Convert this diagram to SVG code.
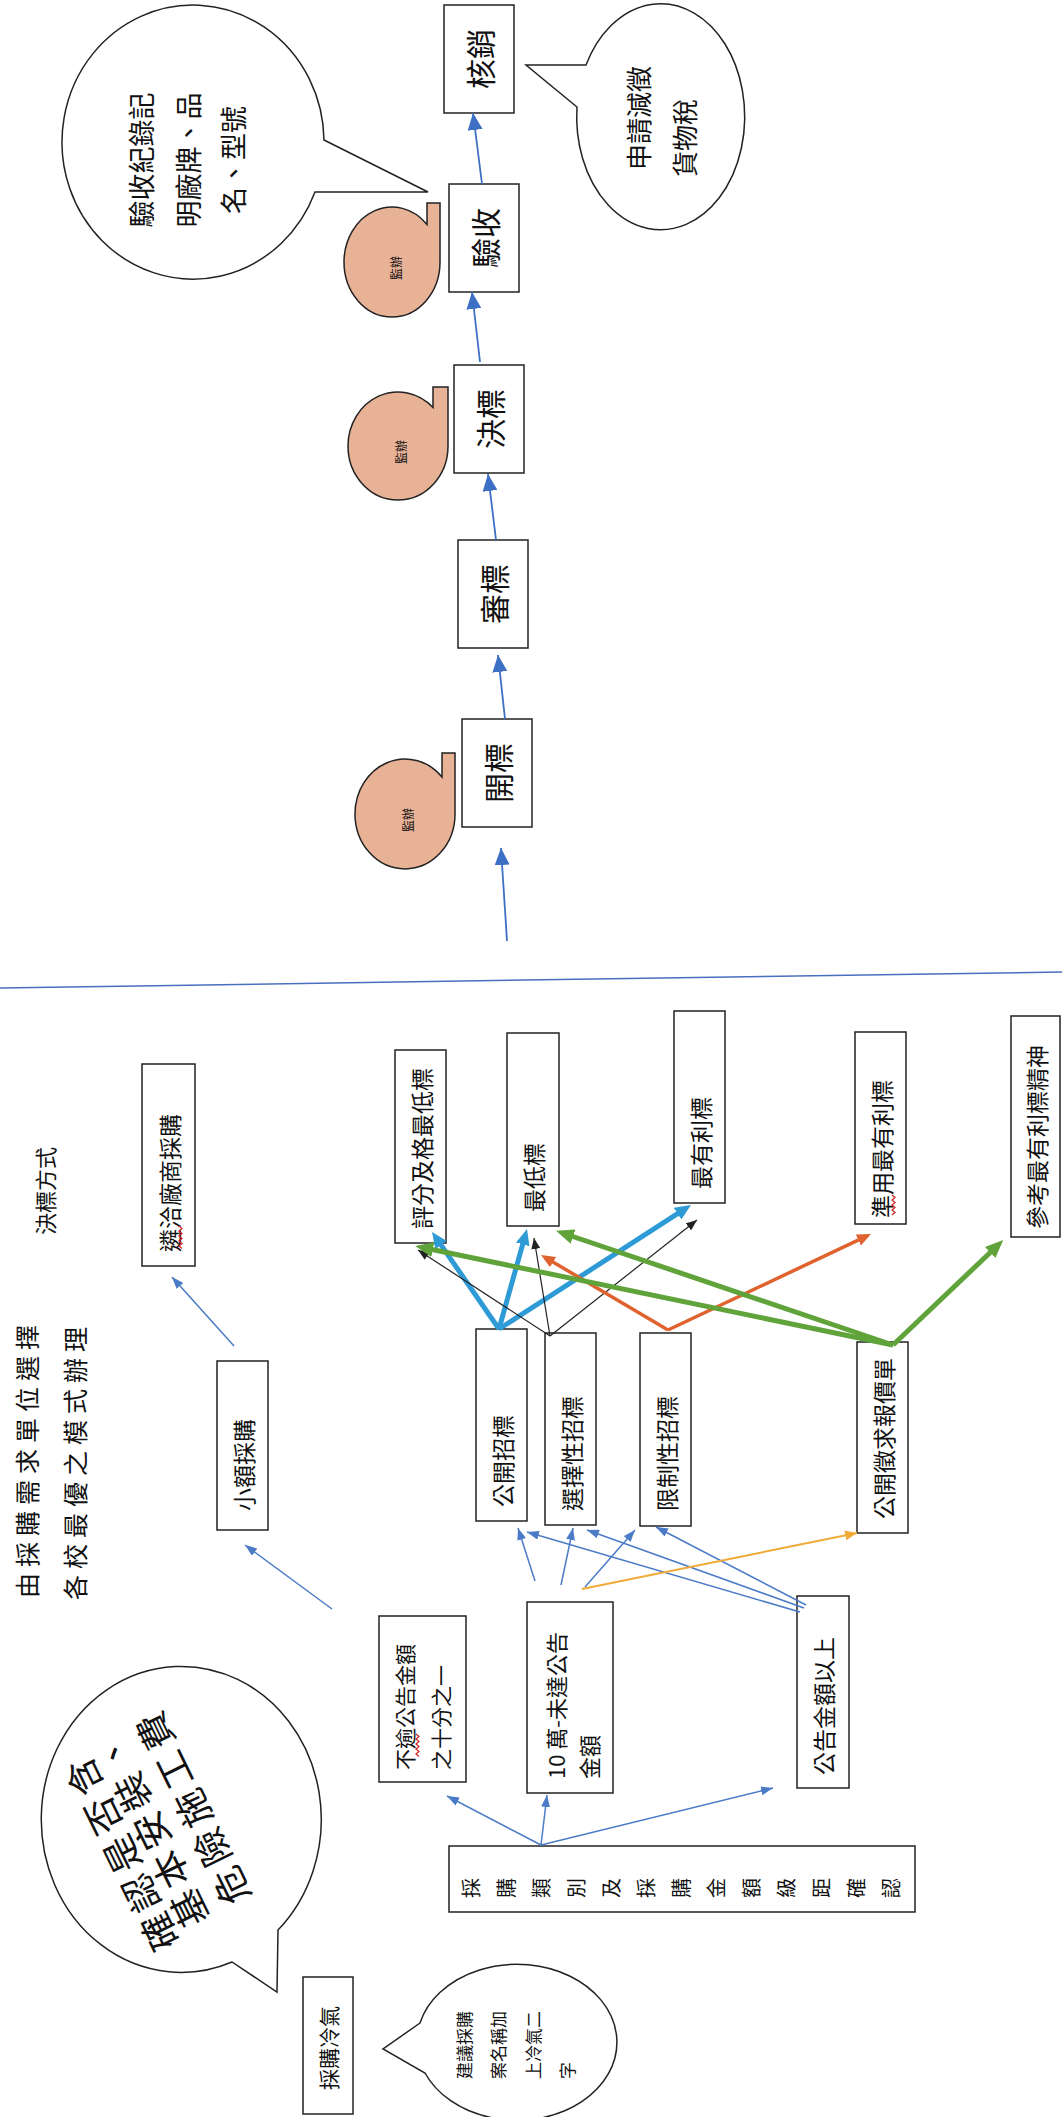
<svg xmlns="http://www.w3.org/2000/svg" width="1062" height="2117" viewBox="0 0 1062 2117">
<style>
.box{fill:#fff;stroke:#222;stroke-width:1.5}
.bub{fill:#fff;stroke:#222;stroke-width:1.5}
.blob{fill:#E7B296;stroke:#222;stroke-width:1.5}
.t{font-family:"Noto Sans CJK TC","Noto Sans CJK SC",sans-serif;fill:#111;dominant-baseline:central}
.f30{font-size:30px}.f23{font-size:23px}.f22{font-size:22px}.f21{font-size:21px}.f17{font-size:17px}.f12{font-size:12px}
.flow{stroke:#3D6FC4;stroke-width:1.8;fill:none}
.thin{stroke:#4B7BC6;stroke-width:1.5;fill:none}
.tblue{stroke:#2F9BD6;stroke-width:5;fill:none}
.green{stroke:#5FA33A;stroke-width:5;fill:none}
.orange{stroke:#E0622F;stroke-width:3.5;fill:none}
.yel{stroke:#F0AA38;stroke-width:2;fill:none}
.blk{stroke:#222;stroke-width:1.2;fill:none}
.sq{stroke:#D02020;stroke-width:1.2;fill:none}
</style>
<defs>
<marker id="mFlow" markerUnits="userSpaceOnUse" markerWidth="17" markerHeight="15" viewBox="0 0 17 15" refX="17" refY="7.5" orient="auto"><path d="M0,0 L17,7.5 L0,15 z" fill="#3D6FC4"/></marker>
<marker id="mThin" markerUnits="userSpaceOnUse" markerWidth="12" markerHeight="9" viewBox="0 0 12 9" refX="12" refY="4.5" orient="auto"><path d="M0,0 L12,4.5 L0,9 z" fill="#4B7BC6"/></marker>
<marker id="mTB" markerUnits="userSpaceOnUse" markerWidth="16" markerHeight="14" viewBox="0 0 16 14" refX="6" refY="7" orient="auto"><path d="M0,0 L16,7 L0,14 z" fill="#2F9BD6"/></marker>
<marker id="mG" markerUnits="userSpaceOnUse" markerWidth="18" markerHeight="15" viewBox="0 0 18 15" refX="8" refY="7.5" orient="auto"><path d="M0,0 L18,7.5 L0,15 z" fill="#5FA33A"/></marker>
<marker id="mO" markerUnits="userSpaceOnUse" markerWidth="14" markerHeight="12" viewBox="0 0 14 12" refX="8" refY="6" orient="auto"><path d="M0,0 L14,6 L0,12 z" fill="#E0622F"/></marker>
<marker id="mY" markerUnits="userSpaceOnUse" markerWidth="12" markerHeight="10" viewBox="0 0 12 10" refX="12" refY="5" orient="auto"><path d="M0,0 L12,5 L0,10 z" fill="#F0AA38"/></marker>
<marker id="mK" markerUnits="userSpaceOnUse" markerWidth="11" markerHeight="9" viewBox="0 0 11 9" refX="11" refY="4.5" orient="auto"><path d="M0,0 L11,4.5 L0,9 z" fill="#222"/></marker>
</defs>
<rect width="1062" height="2117" fill="#fff"/>

<!-- divider line -->
<line x1="0" y1="988" x2="1062" y2="972" stroke="#4A6FC0" stroke-width="1.5"/>

<!-- top flow -->
<g id="n-hexiao"><rect class="box" x="444" y="5" width="70" height="108"/><text class="t f30" text-anchor="middle" transform="translate(479,59) rotate(-90)">核銷</text></g>
<g id="n-yanshou"><rect class="box" x="449" y="184" width="70" height="108"/><text class="t f30" text-anchor="middle" transform="translate(484,238) rotate(-90)">驗收</text></g>
<g id="n-juebiao"><rect class="box" x="454" y="365" width="70" height="108"/><text class="t f30" text-anchor="middle" transform="translate(489,419) rotate(-90)">決標</text></g>
<g id="n-shenbiao"><rect class="box" x="458" y="540" width="70" height="108"/><text class="t f30" text-anchor="middle" transform="translate(493,594) rotate(-90)">審標</text></g>
<g id="n-kaibiao"><rect class="box" x="462" y="719" width="70" height="108"/><text class="t f30" text-anchor="middle" transform="translate(497,773) rotate(-90)">開標</text></g>

<g id="n-jianban1"><path class="blob" d="M344,262 A48,55 0 0 1 427,224.4 L427,203 L440,203 L440,262 A48,55 0 0 1 344,262 Z"/><text class="t f12" text-anchor="middle" transform="translate(395,268) rotate(-90)">監辦</text></g>
<g id="n-jianban2"><path class="blob" d="M348,446 A50,54 0 0 1 433,407.4 L433,387 L448,387 L448,446 A50,54 0 0 1 348,446 Z"/><text class="t f12" text-anchor="middle" transform="translate(400,452) rotate(-90)">監辦</text></g>
<g id="n-jianban3"><path class="blob" d="M355,814 A50,55 0 0 1 442,777 L442,753 L455,753 L455,814 A50,55 0 0 1 355,814 Z"/><text class="t f12" text-anchor="middle" transform="translate(407,820) rotate(-90)">監辦</text></g>

<g id="n-bubble-yanshou"><path class="bub" d="M324,140 L428,192 L315,192 A131,137 0 1 1 324,140 Z"/>
<text class="t" font-size="27" text-anchor="middle" transform="translate(140,160) rotate(-90)">驗收紀錄記</text>
<text class="t" font-size="27" text-anchor="middle" transform="translate(187,160) rotate(-90)">明廠牌、品</text>
<text class="t" font-size="27" text-anchor="middle" transform="translate(232,160) rotate(-90)">名、型號</text></g>

<g id="n-bubble-tax"><path class="bub" d="M586,65 L526,65 L577,107 A84,113 0 1 0 586,65 Z"/>
<text class="t" font-size="26" transform="translate(637,170) rotate(-90)">申請減徵</text>
<text class="t" font-size="26" transform="translate(683,177) rotate(-90)">貨物稅</text></g>

<!-- left texts -->
<g id="n-title1"><text class="t" font-size="25" letter-spacing="6" transform="translate(26,1598) rotate(-90)">由採購需求單位選擇</text></g>
<g id="n-title2"><text class="t" font-size="25" letter-spacing="6" transform="translate(74,1600) rotate(-90)">各校最優之模式辦理</text></g>
<g id="n-title3"><text class="t f22" transform="translate(44,1235) rotate(-90)">決標方式</text></g>

<!-- bottom boxes -->
<g id="n-linqia"><rect class="box" x="142" y="1064" width="53" height="202"/><text class="t f23" transform="translate(168.5,1252) rotate(-90)">遴洽廠商採購</text><path class="sq" d="M179,1226 l3,2.5 l-3,2.5 l3,2.5 l-3,2.5 l3,2.5 l-3,2.5 l3,2.5 l-3,2.5 l3,2.5"/></g>
<g id="n-xiaoe"><rect class="box" x="217" y="1361" width="51" height="169"/><text class="t f23" transform="translate(242.5,1511) rotate(-90)">小額採購</text></g>
<g id="n-pingfen"><rect class="box" x="395" y="1050" width="51" height="193"/><text class="t f23" transform="translate(420.5,1229) rotate(-90)">評分及格最低標</text></g>
<g id="n-zuidi"><rect class="box" x="507" y="1033" width="52" height="193"/><text class="t f23" transform="translate(533,1212) rotate(-90)">最低標</text></g>
<g id="n-zuiyouli"><rect class="box" x="674" y="1011" width="51" height="192"/><text class="t f23" transform="translate(699.5,1189) rotate(-90)">最有利標</text></g>
<g id="n-zhunyong"><rect class="box" x="855" y="1032" width="51" height="192"/><text class="t f23" transform="translate(880.5,1218) rotate(-90)">準用最有利標</text><path class="sq" d="M892,1195 l3,2.5 l-3,2.5 l3,2.5 l-3,2.5 l3,2.5 l-3,2.5 l3,2.5 l-3,2.5"/></g>
<g id="n-cankao"><rect class="box" x="1011" y="1016" width="49" height="221"/><text class="t f23" transform="translate(1035.5,1229) rotate(-90)">參考最有利標精神</text></g>
<g id="n-gongkai"><rect class="box" x="476" y="1329" width="51" height="192"/><text class="t f23" transform="translate(501.5,1507) rotate(-90)">公開招標</text></g>
<g id="n-xuanze"><rect class="box" x="545" y="1333" width="51" height="192"/><text class="t f23" transform="translate(570.5,1511) rotate(-90)">選擇性招標</text></g>
<g id="n-xianzhi"><rect class="box" x="640" y="1333" width="51" height="193"/><text class="t f23" transform="translate(665.5,1511) rotate(-90)">限制性招標</text></g>
<g id="n-zhengqiu"><rect class="box" x="857" y="1342" width="51" height="191"/><text class="t f23" transform="translate(882.5,1519) rotate(-90)">公開徵求報價單</text></g>
<g id="n-buyu"><rect class="box" x="379" y="1616" width="87" height="166"/><text class="t f21" transform="translate(403.5,1770) rotate(-90)">不逾公告金額</text><text class="t f21" transform="translate(440,1770) rotate(-90)">之十分之一</text><path class="sq" d="M416,1734 l3,2.5 l-3,2.5 l3,2.5 l-3,2.5 l3,2.5 l-3,2.5 l3,2.5 l-3,2.5 l3,2.5"/></g>
<g id="n-shiwan"><rect class="box" x="527" y="1602" width="86" height="191"/><text class="t f22" transform="translate(555,1779) rotate(-90)">10 萬-未達公告</text><text class="t f22" transform="translate(588,1779) rotate(-90)">金額</text></g>
<g id="n-gonggao"><rect class="box" x="797" y="1596" width="52" height="192"/><text class="t f23" transform="translate(823,1775) rotate(-90)">公告金額以上</text></g>
<g id="n-leibie"><rect class="box" x="449" y="1846" width="466" height="66"/>
<g class="t" font-size="20" text-anchor="middle">
<text transform="translate(470,1888) rotate(-90)">採</text>
<text transform="translate(505,1888) rotate(-90)">購</text>
<text transform="translate(540,1888) rotate(-90)">類</text>
<text transform="translate(575,1888) rotate(-90)">別</text>
<text transform="translate(610,1888) rotate(-90)">及</text>
<text transform="translate(645,1888) rotate(-90)">採</text>
<text transform="translate(680,1888) rotate(-90)">購</text>
<text transform="translate(715,1888) rotate(-90)">金</text>
<text transform="translate(750,1888) rotate(-90)">額</text>
<text transform="translate(785,1888) rotate(-90)">級</text>
<text transform="translate(820,1888) rotate(-90)">距</text>
<text transform="translate(855,1888) rotate(-90)">確</text>
<text transform="translate(890,1888) rotate(-90)">認</text>
</g></g>
<g id="n-lengqi"><rect class="box" x="303" y="1977" width="50" height="137"/><text class="t f21" transform="translate(328,2090) rotate(-90)">採購冷氣</text></g>

<g id="n-bubble-danger"><path class="bub" d="M278,1930 A140,153 0 1 0 232,1962 L277,1992 Z"/>
<g transform="translate(158,1933) rotate(-116)">
<text class="t" font-size="37" letter-spacing="6" x="-18" y="0">確認是否含</text>
<text class="t" font-size="37" letter-spacing="6" x="-10" y="37">基本安裝、</text>
<text class="t" font-size="37" letter-spacing="6" x="-8" y="84">危險施工費</text>
</g></g>

<g id="n-bubble-name"><path class="bub" d="M420,2023 L383,2049 L425,2073 A100,78 0 1 0 420,2023 Z"/>
<text class="t f17" transform="translate(463,2079) rotate(-90)">建議採購</text>
<text class="t f17" transform="translate(497,2079) rotate(-90)">案名稱加</text>
<text class="t f17" transform="translate(532,2079) rotate(-90)">上冷氣二</text>
<text class="t f17" transform="translate(566,2079) rotate(-90)">字</text></g>

<!-- connectors -->
<g id="connectors">
<line class="flow" x1="482" y1="184" x2="473" y2="113" marker-end="url(#mFlow)"/>
<line class="flow" x1="480" y1="362" x2="472" y2="292" marker-end="url(#mFlow)"/>
<line class="flow" x1="496" y1="540" x2="488" y2="474" marker-end="url(#mFlow)"/>
<line class="flow" x1="505" y1="719" x2="498" y2="655" marker-end="url(#mFlow)"/>
<line class="flow" x1="507" y1="941" x2="501" y2="848" marker-end="url(#mFlow)"/>

<line class="thin" x1="234" y1="1346" x2="172" y2="1277" marker-end="url(#mThin)"/>
<line class="thin" x1="332" y1="1609" x2="245" y2="1545" marker-end="url(#mThin)"/>
<line class="thin" x1="541" y1="1845" x2="447" y2="1796" marker-end="url(#mThin)"/>
<line class="thin" x1="541" y1="1845" x2="547" y2="1795" marker-end="url(#mThin)"/>
<line class="thin" x1="541" y1="1845" x2="773" y2="1788" marker-end="url(#mThin)"/>
<line class="thin" x1="535" y1="1581" x2="518" y2="1528" marker-end="url(#mThin)"/>
<line class="thin" x1="561" y1="1585" x2="573" y2="1528" marker-end="url(#mThin)"/>
<line class="thin" x1="585" y1="1587" x2="635" y2="1530" marker-end="url(#mThin)"/>
<line class="thin" x1="800" y1="1612" x2="527" y2="1532" marker-end="url(#mThin)"/>
<line class="thin" x1="804" y1="1608" x2="587" y2="1530" marker-end="url(#mThin)"/>
<line class="thin" x1="806" y1="1605" x2="656" y2="1527" marker-end="url(#mThin)"/>
<line class="yel" x1="582" y1="1589" x2="857" y2="1533" marker-end="url(#mY)"/>

<line class="tblue" x1="499" y1="1329" x2="437.7" y2="1240.2" marker-end="url(#mTB)"/>
<line class="tblue" x1="499" y1="1329" x2="524.3" y2="1238.6" marker-end="url(#mTB)"/>
<line class="tblue" x1="499" y1="1329" x2="682.6" y2="1210.4" marker-end="url(#mTB)"/>
<line class="blk" x1="550" y1="1336" x2="418" y2="1250" marker-end="url(#mK)"/>
<line class="blk" x1="550" y1="1336" x2="534" y2="1238" marker-end="url(#mK)"/>
<line class="blk" x1="550" y1="1336" x2="697" y2="1220" marker-end="url(#mK)"/>
<line class="orange" x1="668" y1="1330" x2="546.2" y2="1258" marker-end="url(#mO)"/>
<line class="orange" x1="668" y1="1330" x2="865.6" y2="1236.6" marker-end="url(#mO)"/>
<line class="green" x1="893" y1="1345" x2="425" y2="1248" marker-end="url(#mG)"/>
<line class="green" x1="893" y1="1345" x2="565.5" y2="1234" marker-end="url(#mG)"/>
<line class="green" x1="893" y1="1345" x2="996" y2="1247" marker-end="url(#mG)"/>
</g>
</svg>
